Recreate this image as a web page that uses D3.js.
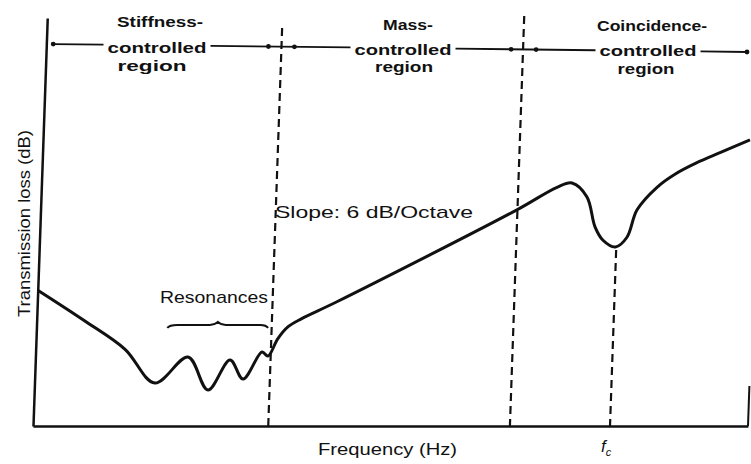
<!DOCTYPE html>
<html>
<head>
<meta charset="utf-8">
<script src="https://cdn.jsdelivr.net/npm/d3@7"></script>
<style>
  body { margin: 0; background: #fff; }
  text { font-family: "Liberation Sans", Arial, sans-serif; fill: #111; }
</style>
</head>
<body>
<svg id="chart"></svg>
<script>
// transmission loss curve
// frequency: octaves from the axis origin, loss: dB (no tick labels in the original)
const freq = [0, 0.68, 1.25, 1.685, 2.134, 2.43, 2.723, 2.915, 3.166, 3.253, 3.38, 3.52, 3.70, 4.19,
              6.663, 7.213, 7.42, 7.636, 7.763, 7.881, 8.06, 8.215, 8.343, 8.611, 8.85, 9.15, 9.5, 9.888];
const loss = [22.3, 17.2, 12.6, 7.06, 11.33, 5.91, 10.84, 7.72, 12.15, 11.49, 14.3, 16.3, 17.6, 20.4,
              35.5, 39.2, 39.9, 37.6, 32.7, 30.5, 29.4, 31.0, 35.5, 39.2, 41.3, 43.2, 45.0, 47.0];

const regionLabels = [
  ["Stiffness-", "controlled", "region"],
  ["Mass-", "controlled", "region"],
  ["Coincidence-", "controlled", "region"]
];
const regionEdges = [0, 3.29, 6.67, 10];
const fc = 8.07;
const resonanceSpan = [1.83, 3.24];
const resonanceLevel = 16.6;

const xLabel = "Frequency (Hz)";
const yLabel = "Transmission loss (dB)";
const slopeLabel = "Slope: 6 dB/Octave";

const width = 751, height = 464;
const base = 426;                      // pixel row of the frequency axis
const shear = Math.tan(2 * Math.PI / 180);  // the scan leans about 2 degrees

const svg = d3.select('#chart')
  .attr('width', width)
  .attr('height', height);

const x = d3.scaleLinear().domain([0, 10]).range([33, 748]);
const y = d3.scaleLinear().domain([0, 67]).range([base, 18]);

// where a vertical line of the leaning plot sits at a given pixel row
const lean = (px, py) => px + shear * (base - py);

const plot = svg.append('g')
  .attr('transform', `translate(0,${base}) skewX(-2) translate(0,${-base})`);

// axes without ticks
const xAxis = plot.append('g')
  .attr('transform', `translate(0,${base})`)
  .call(d3.axisBottom(x).tickValues([]).tickSizeOuter(0));
const yAxis = plot.append('g')
  .attr('transform', `translate(${x(0)},0)`)
  .call(d3.axisLeft(y).tickValues([]).tickSizeOuter(0));
[xAxis, yAxis].forEach(a => a.select('.domain').attr('stroke', '#111').attr('stroke-width', 2.5));

plot.append('line')
  .attr('x1', x(10)).attr('x2', x(10))
  .attr('y1', base).attr('y2', base - 40)
  .attr('stroke', '#111').attr('stroke-width', 2);

// region boundaries and coincidence frequency
const dipIndex = freq.indexOf(d3.least(freq, f => Math.abs(f - fc)));
const dashes = [
  { f: regionEdges[1], top: 28 },
  { f: regionEdges[2], top: 16 },
  { f: fc, top: y(loss[dipIndex]) + 3 }
];
plot.selectAll('.bound')
  .data(dashes)
  .enter()
  .append('line')
  .attr('class', 'bound')
  .attr('x1', d => x(d.f)).attr('x2', d => x(d.f))
  .attr('y1', d => d.top).attr('y2', base)
  .attr('stroke', '#111')
  .attr('stroke-width', 2.2)
  .attr('stroke-dasharray', '8,5');

// the curve
const pts = freq.map((f, i) => [f, loss[i]]);
plot.append('path')
  .datum(pts)
  .attr('fill', 'none')
  .attr('stroke', '#111')
  .attr('stroke-width', 3)
  .attr('stroke-linejoin', 'round')
  .attr('d', d3.line().x(d => x(d[0])).y(d => y(d[1])).curve(d3.curveCatmullRom.alpha(0.5)));

// bracket over the resonances
const bl = x(resonanceSpan[0]), br = x(resonanceSpan[1]), by = y(resonanceLevel);
const bm = bl + (br - bl) * 0.5;
plot.append('path')
  .attr('fill', 'none')
  .attr('stroke', '#111')
  .attr('stroke-width', 2)
  .attr('d', `M${bl},${by + 3} Q${bl + 2},${by} ${bl + 10},${by} L${bm - 8},${by}
              Q${bm - 3},${by} ${bm},${by - 3} Q${bm + 3},${by} ${bm + 8},${by}
              L${br - 8},${by} Q${br - 2},${by} ${br},${by + 3}`);

// region labels along the top
const labelLayout = [
  { cx: [160, 157, 152], base: [27, 53, 71], w: [86, 99, 69] },
  { cx: [408, 403, 404], base: [30, 55, 72], w: [50, 97, 58] },
  { cx: [652, 648, 646], base: [31, 56, 74], w: [110, 97, 57] }
];
const arrowY = px => 44 + (px - 50) * 8 / 698;

const gaps = [];
regionLabels.forEach((lines, r) => {
  const lay = labelLayout[r];
  lines.forEach((t, i) => {
    const el = svg.append('text')
      .attr('x', lay.cx[i])
      .attr('y', lay.base[i])
      .attr('text-anchor', 'middle')
      .attr('font-size', 15)
      .attr('font-weight', 'bold')
      .attr('textLength', lay.w[i])
      .attr('lengthAdjust', 'spacingAndGlyphs')
      .text(t);
    if (i === 1) {
      const b = el.node().getBBox();
      gaps.push([b.x - 4, b.x + b.width + 4]);
    }
  });
});

const edgeTop = regionEdges.map(e => lean(x(e), 48));
const ends = [edgeTop[0] + 7, edgeTop[1] - 13, edgeTop[1] + 13, edgeTop[2] - 12, edgeTop[2] + 13, 747];
const segs = [];
let start = ends[0];
gaps.forEach(g => { segs.push([start, g[0]]); start = g[1]; });
segs.push([start, ends[5]]);

svg.selectAll('.arrow')
  .data(segs)
  .enter()
  .append('line')
  .attr('class', 'arrow')
  .attr('x1', d => d[0]).attr('x2', d => d[1])
  .attr('y1', d => arrowY(d[0])).attr('y2', d => arrowY(d[1]))
  .attr('stroke', '#111')
  .attr('stroke-width', 1.8);

svg.selectAll('.tip')
  .data(ends)
  .enter()
  .append('circle')
  .attr('class', 'tip')
  .attr('cx', d => d)
  .attr('cy', d => arrowY(d))
  .attr('r', 2.4)
  .attr('fill', '#111');

// annotations
svg.append('text')
  .attr('x', 160).attr('y', 303)
  .attr('font-size', 17)
  .attr('textLength', 108).attr('lengthAdjust', 'spacingAndGlyphs')
  .text('Resonances');

svg.append('text')
  .attr('x', 275).attr('y', 218)
  .attr('font-size', 17)
  .attr('textLength', 198).attr('lengthAdjust', 'spacingAndGlyphs')
  .text(slopeLabel);

svg.append('text')
  .attr('x', 318).attr('y', 455)
  .attr('font-size', 17)
  .attr('textLength', 139).attr('lengthAdjust', 'spacingAndGlyphs')
  .text(xLabel);

svg.append('text')
  .attr('transform', 'translate(30,317) rotate(-90)')
  .attr('font-size', 17)
  .attr('textLength', 187).attr('lengthAdjust', 'spacingAndGlyphs')
  .text(yLabel);

const fcText = svg.append('text')
  .attr('x', x(fc) - 9).attr('y', 452)
  .attr('font-size', 17)
  .attr('font-style', 'italic');
fcText.append('tspan').text('f');
fcText.append('tspan').attr('font-size', 11).attr('dy', 4).text('c');
</script>
</body>
</html>
